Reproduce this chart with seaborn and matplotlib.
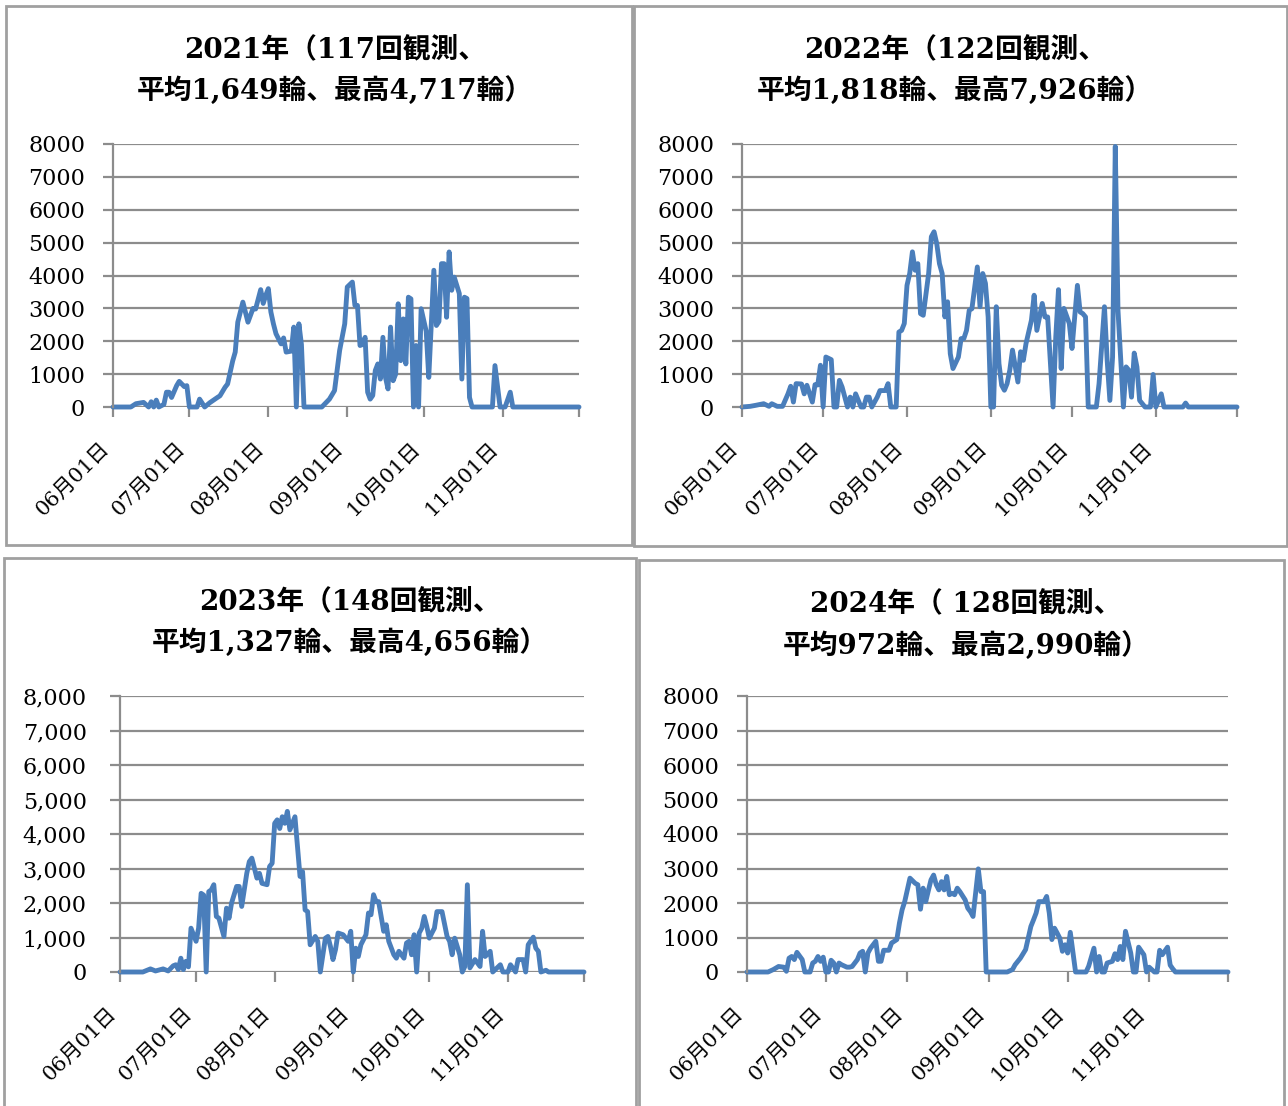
import matplotlib
matplotlib.use("Agg")
import matplotlib.pyplot as plt
from matplotlib.patches import Rectangle
from matplotlib.ticker import FuncFormatter
import seaborn as sns

# day offsets counted from June 1, values = number of flowers observed
days_2021 = [0, 7, 9, 12, 14, 15, 16, 17, 18, 20,
             21, 22, 23, 25, 26, 27, 28, 29, 30, 33,
             34, 36, 38, 41, 42, 44, 45, 47, 48, 49,
             51, 53, 55, 56, 58, 59, 60, 61, 62, 63,
             64, 66, 67, 68, 70, 71, 72, 73, 74, 75,
             82, 85, 87, 89, 91, 92, 94, 95, 96, 97,
             98, 99, 100, 101, 102, 103, 104, 105, 106, 107,
             108, 109, 110, 111, 112, 113, 114, 115, 116, 117,
             118, 119, 120, 121, 123, 124, 126, 127, 128, 129,
             130, 131, 132, 133, 134, 136, 137, 138, 139, 140,
             141, 149, 150, 152, 154, 156, 157, 183]
counts_2021 = [0, 0, 100, 140, 0, 160, 0, 210, 0, 80,
               450, 450, 290, 650, 780, 700, 620, 650, 0, 0,
               240, 0, 130, 290, 340, 600, 700, 1400, 1670, 2580,
               3190, 2580, 3000, 2980, 3570, 3150, 3400, 3600, 2890, 2530,
               2230, 1920, 2100, 1670, 1700, 2430, 0, 2530, 1900, 0,
               0, 240, 500, 1720, 2530, 3650, 3800, 3090, 3090, 1870,
               1900, 2120, 450, 240, 350, 1110, 1310, 850, 2120, 900,
               550, 2430, 800, 1000, 3140, 1410, 2680, 1310, 3340, 3290,
               0, 1870, 0, 2990, 2300, 900, 4160, 2480, 2600, 4360,
               4360, 2730, 4717, 3550, 3950, 3450, 850, 3340, 3300, 290,
               0, 0, 1260, 0, 0, 450, 0, 0]

days_2022 = [0, 3, 5, 8, 10, 11, 13, 15, 17, 18,
             19, 20, 22, 23, 24, 26, 27, 28, 29, 30,
             31, 33, 34, 35, 36, 37, 39, 40, 41, 42,
             44, 45, 46, 47, 48, 50, 51, 53, 54, 55,
             57, 58, 59, 60, 61, 62, 63, 64, 65, 66,
             67, 69, 70, 71, 72, 73, 74, 75, 76, 77,
             78, 80, 81, 82, 83, 84, 85, 87, 88, 89,
             90, 91, 92, 93, 94, 95, 96, 97, 98, 99,
             100, 102, 103, 104, 105, 107, 108, 109, 110, 111,
             112, 113, 115, 116, 117, 118, 119, 121, 122, 124,
             125, 126, 127, 128, 131, 132, 134, 135, 136, 137,
             138, 139, 141, 142, 143, 144, 145, 146, 147, 149,
             151, 152, 153, 155, 156, 163, 164, 165, 183]
counts_2022 = [0, 20, 50, 100, 20, 100, 20, 20, 400, 630,
               150, 710, 700, 400, 660, 150, 680, 670, 1270, 0,
               1520, 1440, 0, 0, 810, 610, 0, 300, 0, 400,
               0, 0, 300, 300, 0, 300, 500, 500, 710, 0,
               0, 2280, 2330, 2540, 3700, 4060, 4720, 4160, 4360, 2840,
               2790, 4060, 5180, 5330, 4970, 4360, 4060, 2740, 3200, 1620,
               1170, 1520, 2080, 2080, 2330, 2940, 2990, 4260, 3050, 4060,
               3760, 2740, 0, 0, 3050, 1320, 660, 510, 710, 1120,
               1730, 760, 1680, 1420, 1930, 2640, 3400, 2330, 2740, 3150,
               2740, 2740, 0, 2130, 3570, 1170, 3000, 2540, 1780, 3700,
               2890, 2840, 2740, 0, 0, 710, 3050, 1420, 200, 1520,
               7926, 2940, 0, 1220, 1120, 300, 1640, 1220, 200, 0,
               0, 990, 0, 400, 0, 0, 120, 0, 0]

days_2023 = [0, 9, 12, 14, 17, 19, 21, 22, 23, 24,
             25, 26, 27, 28, 30, 31, 32, 33, 34, 35,
             36, 37, 38, 39, 41, 42, 43, 44, 46, 47,
             48, 50, 51, 52, 54, 55, 56, 58, 59, 60,
             61, 62, 63, 64, 65, 66, 67, 68, 69, 70,
             71, 72, 73, 74, 75, 77, 78, 79, 81, 82,
             83, 84, 85, 86, 88, 90, 91, 92, 93, 94,
             95, 97, 98, 99, 100, 101, 102, 104, 105, 106,
             108, 109, 110, 112, 113, 114, 115, 116, 117, 118,
             119, 120, 121, 122, 123, 124, 125, 127, 129, 130,
             131, 132, 134, 135, 136, 137, 138, 140, 142, 143,
             144, 146, 147, 150, 151, 153, 154, 156, 157, 159,
             160, 161, 163, 164, 165, 166, 168, 169, 183]
counts_2023 = [0, 0, 90, 30, 90, 30, 180, 210, 70, 400,
               70, 310, 150, 1270, 890, 1270, 2280, 2230, 0, 2330,
               2380, 2530, 1610, 1560, 1030, 1850, 1560, 2000, 2480, 2480,
               1900, 2860, 3200, 3300, 2720, 2860, 2570, 2530, 3060, 3150,
               4310, 4410, 4160, 4500, 4310, 4656, 4120, 4310, 4500, 3630,
               2770, 2910, 1800, 1750, 790, 1030, 890, 0, 980, 1030,
               740, 360, 650, 1130, 1080, 890, 1180, 0, 690, 450,
               790, 1080, 1710, 1660, 2240, 2040, 2040, 1180, 1370, 890,
               500, 400, 600, 400, 840, 890, 500, 1080, 0, 1130,
               1270, 1610, 1320, 980, 1130, 1270, 1750, 1750, 1030, 890,
               500, 980, 500, 0, 160, 2530, 120, 360, 160, 1180,
               450, 600, 0, 210, 0, 0, 210, 0, 360, 360,
               0, 790, 1010, 690, 600, 0, 50, 0, 0]

days_2024 = [0, 8, 10, 12, 14, 15, 16, 17, 18, 19,
             21, 22, 24, 25, 26, 27, 28, 29, 30, 31,
             32, 33, 34, 35, 36, 38, 39, 40, 42, 43,
             44, 45, 46, 47, 49, 50, 51, 52, 54, 55,
             57, 58, 59, 60, 61, 62, 64, 65, 66, 67,
             68, 69, 70, 71, 72, 73, 74, 75, 76, 77,
             78, 79, 80, 81, 83, 84, 85, 86, 88, 89,
             90, 91, 93, 99, 101, 102, 104, 106, 108, 109,
             110, 111, 113, 114, 115, 116, 117, 118, 119, 120,
             121, 122, 123, 125, 127, 129, 130, 132, 133, 134,
             135, 136, 137, 139, 140, 141, 142, 143, 144, 146,
             147, 148, 149, 151, 152, 153, 155, 156, 157, 158,
             160, 161, 162, 163, 183]
counts_2024 = [0, 0, 70, 160, 140, 20, 400, 450, 360, 570,
               360, 0, 0, 260, 310, 450, 310, 430, 0, 0,
               340, 260, 0, 260, 210, 140, 140, 160, 360, 550,
               600, 0, 550, 690, 890, 310, 310, 630, 630, 840,
               940, 1420, 1800, 2040, 2380, 2720, 2570, 2530, 1820, 2430,
               2040, 2360, 2670, 2810, 2530, 2380, 2620, 2380, 2770, 2240,
               2280, 2240, 2430, 2330, 2090, 1850, 1750, 1610, 2990, 2330,
               2330, 0, 0, 0, 70, 210, 400, 650, 1320, 1510,
               1710, 2040, 2040, 2190, 1710, 940, 1270, 1130, 980, 600,
               790, 550, 1150, 0, 0, 0, 170, 690, 0, 450,
               0, 0, 260, 310, 530, 360, 740, 360, 1180, 550,
               0, 0, 720, 500, 0, 140, 0, 0, 630, 500,
               720, 200, 90, 0, 0]

titles = [
    ("2021年（117回観測、", "平均1,649輪、最高4,717輪）"),
    ("2022年（122回観測、", "平均1,818輪、最高7,926輪）"),
    ("2023年（148回観測、", "平均1,327輪、最高4,656輪）"),
    ("2024年（ 128回観測、", "平均972輪、最高2,990輪）"),
]
month_ticks = [0, 30, 61, 92, 122, 153, 183]
month_labels = ["06月01日", "07月01日", "08月01日", "09月01日", "10月01日", "11月01日", ""]
y_ticks = list(range(0, 8001, 1000))

W, H = 1288, 1106
LINE_COLOR = "#4a7ebb"
GRID_COLOR = "#8c8c8c"

sns.set_theme(style="white")
plt.rcParams['font.family'] = ['DejaVu Serif', 'Noto Sans CJK JP']
plt.rcParams['text.color'] = 'black'
plt.rcParams['xtick.color'] = 'black'
plt.rcParams['ytick.color'] = 'black'

fig = plt.figure(figsize=(W / 100, H / 100), dpi=100)


def px_rect(x0, y0, x1, y1):
    return [x0 / W, 1 - y1 / H, (x1 - x0) / W, (y1 - y0) / H]


# panel frames
for x0, y0, x1, y1 in [(6, 6, 632, 545), (634, 6, 1287, 546),
                       (4, 558, 636, 1120), (639, 560, 1284, 1120)]:
    fig.add_artist(Rectangle((x0 / W, 1 - y1 / H), (x1 - x0) / W, (y1 - y0) / H,
                             transform=fig.transFigure, fill=False,
                             ec="#a0a0a0", lw=2))

panels = [
    (days_2021, counts_2021, px_rect(113, 144, 579, 407), 335, (50, 91), False, 13),
    (days_2022, counts_2022, px_rect(742, 144, 1237, 407), 955, (50, 91), False, 13),
    (days_2023, counts_2023, px_rect(120, 696, 584, 972), 350, (602, 643), True, 17),
    (days_2024, counts_2024, px_rect(747, 696, 1228, 972), 966, (604, 646), False, 13),
]

for (days, counts, rect, tx, ty, comma, ypad), (t1, t2) in zip(panels, titles):
    ax = fig.add_axes(rect)
    ax.yaxis.grid(True, color=GRID_COLOR, lw=1.6)
    ax.set_axisbelow(True)
    sns.lineplot(x=days, y=counts, ax=ax, color=LINE_COLOR, lw=3.5,
                 clip_on=False, solid_joinstyle="round", solid_capstyle="round")
    ax.set_xlim(0, 183)
    ax.set_ylim(0, 8000)
    ax.set_yticks(y_ticks)
    if comma:
        ax.yaxis.set_major_formatter(FuncFormatter(lambda v, p: f"{int(v):,}"))
    else:
        ax.yaxis.set_major_formatter(FuncFormatter(lambda v, p: f"{int(v)}"))
    ax.set_xticks(month_ticks)
    ax.set_xticklabels(month_labels, rotation=45, ha="right", fontsize=15)
    ax.tick_params(axis="y", left=True, length=7, width=1.6, color=GRID_COLOR,
                   labelcolor="black", labelsize=16, pad=ypad)
    ax.tick_params(axis="x", bottom=True, length=7, width=1.6, color=GRID_COLOR,
                   labelcolor="black", pad=16)
    for side in ["top", "right", "bottom"]:
        ax.spines[side].set_visible(False)
    ax.spines["left"].set_color(GRID_COLOR)
    ax.spines["left"].set_linewidth(1.6)
    ax.set_xlabel("")
    ax.set_ylabel("")
    fig.text(tx / W, 1 - ty[0] / H, t1, ha="center", va="center",
             fontsize=20, fontweight="bold", color="black")
    fig.text(tx / W, 1 - ty[1] / H, t2, ha="center", va="center",
             fontsize=20, fontweight="bold", color="black")

fig.savefig("out.png", dpi=100)
